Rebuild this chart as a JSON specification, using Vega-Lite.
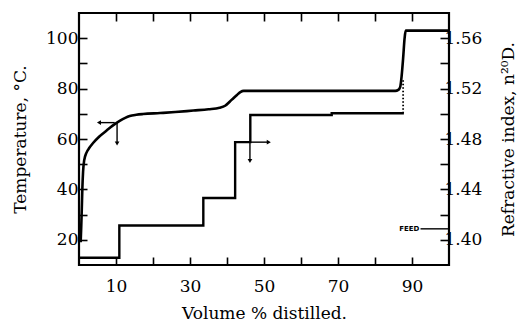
{
  "$schema": "https://vega.github.io/schema/vega-lite/v6.json",
  "width": 370,
  "height": 252,
  "autosize": {"type": "none"},
  "padding": {"left": 79, "top": 13, "right": 69, "bottom": 58},
  "background": "white",
  "config": {
    "view": {"stroke": "black", "strokeWidth": 2.2},
    "axis": {
      "grid": false,
      "domain": false,
      "tickColor": "black",
      "tickWidth": 1.6,
      "labelColor": "black",
      "labelFont": "DejaVu Serif",
      "labelFontSize": 17,
      "titleColor": "black",
      "titleFont": "DejaVu Serif",
      "titleFontSize": 17,
      "titleFontWeight": "normal"
    }
  },
  "layer": [
    {
      "encoding": {
        "x": {
          "field": "vol", "type": "quantitative",
          "scale": {"domain": [0, 100], "nice": false, "zero": false},
          "axis": {
            "orient": "bottom",
            "values": [10, 20, 30, 40, 50, 60, 70, 80, 90],
            "labelExpr": "datum.value % 20 == 10 ? datum.label : ''",
            "tickSize": -8,
            "labelPadding": 21,
            "title": "Volume % distilled.",
            "titlePadding": 11
          }
        },
        "y": {
          "field": "temp", "type": "quantitative",
          "scale": {"domain": [10, 110], "nice": false, "zero": false},
          "axis": {
            "orient": "left",
            "values": [20, 30, 40, 50, 60, 70, 80, 90, 100],
            "labelExpr": "datum.value % 20 == 0 ? datum.label : ''",
            "tickSize": -8,
            "labelPadding": 9,
            "title": "Temperature, °C.",
            "titlePadding": 16
          }
        }
      },
      "layer": [
        {
          "data": {"values": [
            {"vol": 0.45, "temp": 19}, {"vol": 0.6, "temp": 25}, {"vol": 0.75, "temp": 32},
            {"vol": 0.9, "temp": 40}, {"vol": 1.1, "temp": 47}, {"vol": 1.4, "temp": 51.5},
            {"vol": 2.0, "temp": 54.5}, {"vol": 2.8, "temp": 56.5}, {"vol": 3.8, "temp": 58.4},
            {"vol": 5.5, "temp": 61}, {"vol": 7.4, "temp": 63.3}, {"vol": 9, "temp": 65.2},
            {"vol": 11, "temp": 67.2}, {"vol": 12.5, "temp": 68.4}, {"vol": 13.7, "temp": 69.1},
            {"vol": 15.5, "temp": 69.6}, {"vol": 17.3, "temp": 69.9}, {"vol": 21.9, "temp": 70.3},
            {"vol": 26, "temp": 70.7}, {"vol": 30.9, "temp": 71.3}, {"vol": 35, "temp": 71.8},
            {"vol": 38, "temp": 72.4}, {"vol": 39.5, "temp": 73.2}, {"vol": 40.8, "temp": 74.9},
            {"vol": 41.8, "temp": 76.3}, {"vol": 42.7, "temp": 77.5}, {"vol": 43.6, "temp": 78.6},
            {"vol": 44.5, "temp": 79.1}, {"vol": 46, "temp": 79.1}, {"vol": 60, "temp": 79.1},
            {"vol": 85.5, "temp": 79.1}, {"vol": 86.3, "temp": 79.5}, {"vol": 86.8, "temp": 80.6},
            {"vol": 87.2, "temp": 85}, {"vol": 87.6, "temp": 92}, {"vol": 88, "temp": 100},
            {"vol": 88.3, "temp": 103}, {"vol": 100, "temp": 103}
          ]},
          "mark": {"type": "line", "color": "black", "strokeWidth": 2.6, "interpolate": "monotone"}
        },
        {
          "data": {"values": [
            {"vol": 9.66, "vol2": 5.6, "temp": 66.5, "temp2": 66.5},
            {"vol": 10.29, "vol2": 10.29, "temp": 66.5, "temp2": 58.6}
          ]},
          "mark": {"type": "rule", "color": "black", "strokeWidth": 1.4},
          "encoding": {"x2": {"field": "vol2"}, "y2": {"field": "temp2"}}
        },
        {
          "data": {"values": [
            {"vol": 5.4, "temp": 66.5, "head": "left"},
            {"vol": 10.29, "temp": 58.2, "head": "down"}
          ]},
          "mark": {"type": "point", "filled": true, "color": "black", "size": 22, "opacity": 1},
          "encoding": {
            "shape": {"field": "head", "type": "nominal", "legend": null,
              "scale": {"domain": ["left", "down", "right"], "range": ["triangle-left", "triangle-down", "triangle-right"]}}
          }
        }
      ]
    },
    {
      "encoding": {
        "x": {
          "field": "vol", "type": "quantitative",
          "scale": {"domain": [0, 100], "nice": false, "zero": false},
          "axis": {
            "orient": "top",
            "values": [10, 20, 30, 40, 50, 60, 70, 80, 90],
            "labels": false,
            "tickSize": -8,
            "title": null
          }
        },
        "y": {
          "field": "nD", "type": "quantitative",
          "scale": {"domain": [1.38, 1.58], "nice": false, "zero": false},
          "axis": {
            "orient": "right",
            "values": [1.40, 1.42, 1.44, 1.46, 1.48, 1.50, 1.52, 1.54, 1.56],
            "format": ".2f",
            "labelExpr": "round(datum.value * 100) % 4 == 0 ? datum.label : ''",
            "tickSize": -9,
            "labelPadding": 4,
            "title": "Refractive index, n²⁰D.",
            "titleAngle": 270,
            "titlePadding": 36
          }
        }
      },
      "layer": [
        {
          "data": {"values": [
            {"vol": 0, "nD": 1.3858}, {"vol": 10.9, "nD": 1.4113}, {"vol": 33.6, "nD": 1.4332},
            {"vol": 42.2, "nD": 1.4775}, {"vol": 46.3, "nD": 1.4991}, {"vol": 68.3, "nD": 1.5004},
            {"vol": 87.8, "nD": 1.5004}
          ]},
          "mark": {"type": "line", "color": "black", "strokeWidth": 2.4, "interpolate": "step-after"}
        },
        {
          "data": {"values": [{"vol": 87.6, "nD": 1.5004, "nD2": 1.527}]},
          "mark": {"type": "rule", "color": "black", "strokeWidth": 1.8, "strokeDash": [1.5, 2]},
          "encoding": {"y2": {"field": "nD2"}}
        },
        {
          "data": {"values": [
            {"vol": 46.2, "vol2": 51.0, "nD": 1.4775, "nD2": 1.4775},
            {"vol": 46.2, "vol2": 46.2, "nD": 1.4775, "nD2": 1.4635}
          ]},
          "mark": {"type": "rule", "color": "black", "strokeWidth": 1.4},
          "encoding": {"x2": {"field": "vol2"}, "y2": {"field": "nD2"}}
        },
        {
          "data": {"values": [
            {"vol": 51.3, "nD": 1.4775, "head": "right"},
            {"vol": 46.2, "nD": 1.4625, "head": "down"}
          ]},
          "mark": {"type": "point", "filled": true, "color": "black", "size": 22, "opacity": 1},
          "encoding": {
            "shape": {"field": "head", "type": "nominal", "legend": null,
              "scale": {"domain": ["left", "down", "right"], "range": ["triangle-left", "triangle-down", "triangle-right"]}}
          }
        },
        {
          "data": {"values": [{"vol": 92.3, "vol2": 100, "nD": 1.4087}]},
          "mark": {"type": "rule", "color": "black", "strokeWidth": 1.4},
          "encoding": {"x2": {"field": "vol2"}}
        },
        {
          "data": {"values": [{"vol": 92.0, "nD": 1.4087, "label": "FEED"}]},
          "mark": {"type": "text", "align": "right", "baseline": "middle", "font": "DejaVu Sans", "fontSize": 7, "fontWeight": "bold", "color": "black"},
          "encoding": {"text": {"field": "label"}}
        }
      ]
    }
  ],
  "resolve": {
    "scale": {"y": "independent"},
    "axis": {"x": "independent", "y": "independent"}
  }
}
